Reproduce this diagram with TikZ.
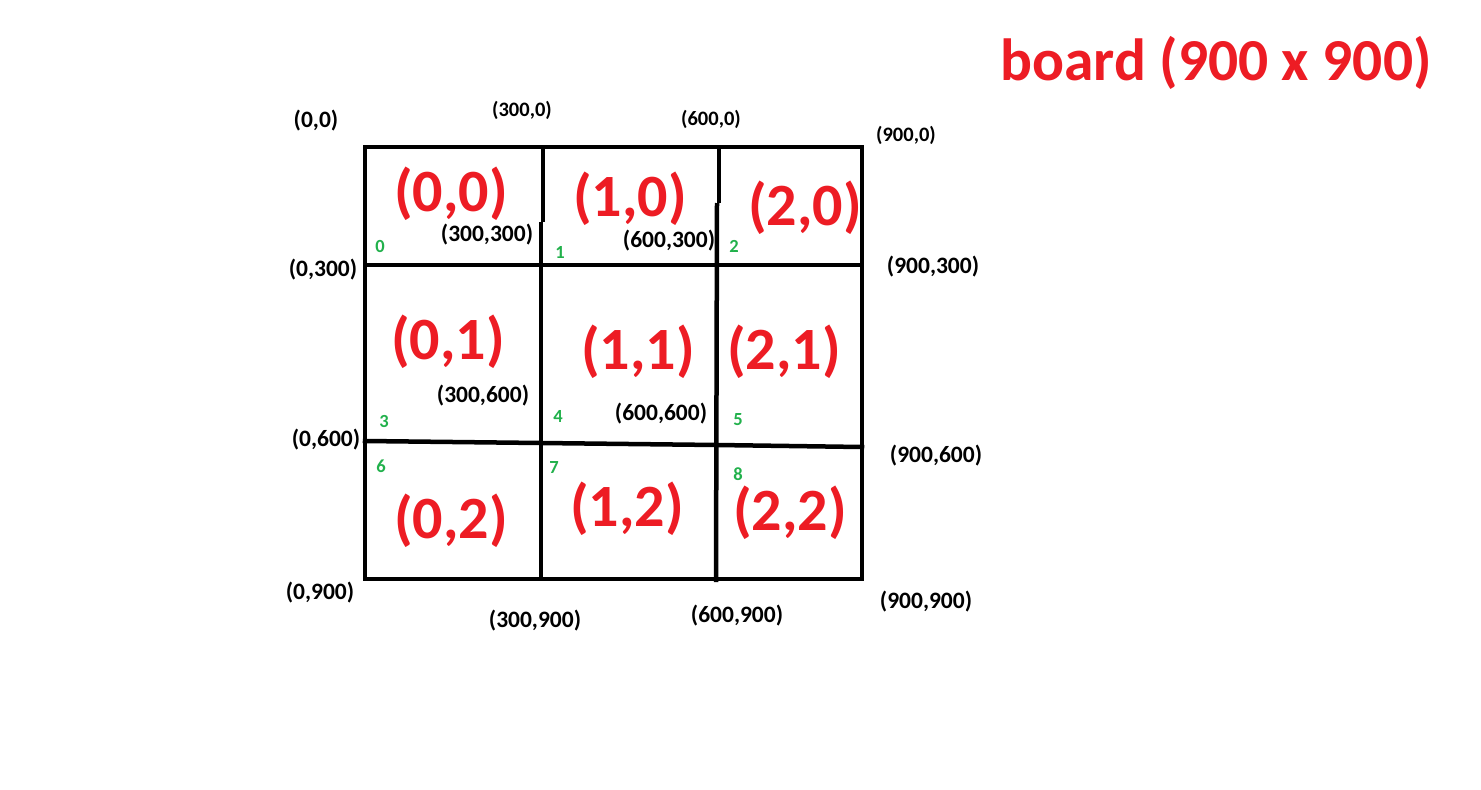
\documentclass[tikz,border=0pt]{standalone}
\usepackage{fontspec}
\setmainfont{Carlito}
\definecolor{pred}{RGB}{237,28,36}
\definecolor{pgreen}{RGB}{34,177,76}
\tikzset{
  gridline/.style={line width=4.5pt, black, line cap=rect},
  cell/.style={text=pred, font=\fontsize{60}{62}\selectfont\bfseries, inner sep=0pt, anchor=center},
  coordlbl/.style={text=black, font=\fontsize{23.5}{25}\selectfont\bfseries, inner sep=0pt, anchor=center},
  smalllbl/.style={text=black, font=\fontsize{20.5}{22}\selectfont\bfseries, inner sep=0pt, anchor=center},
  idx/.style={text=pgreen, font=\fontsize{18.5}{20}\selectfont\bfseries, inner sep=0pt, anchor=center},
}
\begin{document}
\begin{tikzpicture}[x=1pt,y=-1pt]
\useasboundingbox[fill=white] (0,0) rectangle (1481,790);
% grid
\draw[gridline, line join=miter] (365,147) rectangle (862,579);
\draw[gridline] (365,265) -- (862,265);
\draw[gridline] (365,441) -- (541,443) -- (717,445) -- (862,447);
\draw[gridline, line cap=butt] (543,147) -- (543,222);
\draw[gridline, line cap=butt] (541,222) -- (541,579);
\draw[gridline, line cap=butt] (719,147) -- (719,203);
\draw[gridline, line cap=butt] (717,203) -- (716,582);
% title
\node[text=pred, font=\fontsize{59.5}{62}\selectfont\bfseries, inner sep=0pt] (title) at (1216,63) {board (900 x 900)};
% cell labels
\node[cell] (c00) at (451,194) {(0,0)};
\node[cell] (c10) at (630,199) {(1,0)};
\node[cell] (c20) at (805,208) {(2,0)};
\node[cell] (c01) at (448,342) {(0,1)};
\node[cell] (c11) at (638,352) {(1,1)};
\node[cell] (c21) at (784,352) {(2,1)};
\node[cell] (c02) at (451,521) {(0,2)};
\node[cell] (c12) at (627,509) {(1,2)};
\node[cell] (c22) at (790,513) {(2,2)};
% index numbers
\node[idx] (i0) at (380,246) {0};
\node[idx] (i1) at (560,252) {1};
\node[idx] (i2) at (734,246) {2};
\node[idx] (i3) at (384,421) {3};
\node[idx] (i4) at (558,416) {4};
\node[idx] (i5) at (738,420) {5};
\node[idx] (i6) at (381,466) {6};
\node[idx] (i7) at (554,467) {7};
\node[idx] (i8) at (738,474) {8};
% coordinate labels
\node[coordlbl] (p00) at (316,121) {(0,0)};
\node[smalllbl] (p30) at (522,110) {(300,0)};
\node[smalllbl] (p60) at (711,119) {(600,0)};
\node[smalllbl] (p90) at (906,135) {(900,0)};
\node[coordlbl] (p03) at (323,270) {(0,300)};
\node[coordlbl] (p93) at (933,267) {(900,300)};
\node[coordlbl] (p06) at (326,440) {(0,600)};
\node[coordlbl] (p96) at (936,456) {(900,600)};
\node[coordlbl] (p09) at (320,593) {(0,900)};
\node[coordlbl] (p39) at (535,621) {(300,900)};
\node[coordlbl] (p69) at (737,616) {(600,900)};
\node[coordlbl] (p99) at (926,602) {(900,900)};
\node[coordlbl] (p33) at (487,235) {(300,300)};
\node[coordlbl] (p63) at (669,241) {(600,300)};
\node[coordlbl] (p36) at (483,396) {(300,600)};
\node[coordlbl] (p66) at (661,414) {(600,600)};
\end{tikzpicture}
\end{document}
